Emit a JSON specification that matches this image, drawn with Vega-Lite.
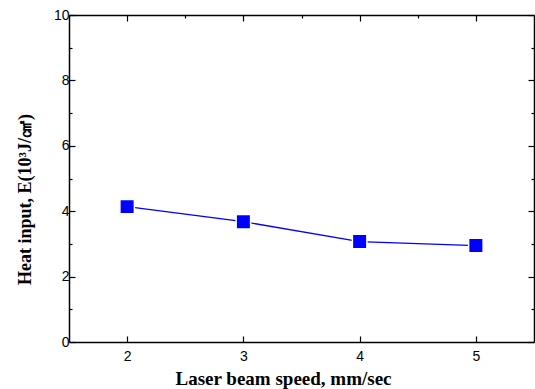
{
  "$schema": "https://vega.github.io/schema/vega-lite/v6.json",
  "width": 465,
  "height": 327,
  "autosize": "none",
  "padding": {"left": 69, "top": 15, "right": 1, "bottom": 47},
  "background": "white",
  "config": {
    "view": {"stroke": null},
    "axis": {
      "domainColor": "black",
      "domainWidth": 1.5,
      "tickColor": "black",
      "tickWidth": 1.2,
      "grid": false,
      "labelFont": "Liberation Sans",
      "labelFontSize": 14,
      "labelColor": "black",
      "titleFont": "Liberation Serif",
      "titleFontWeight": "bold",
      "titleFontSize": 18,
      "titleColor": "black"
    }
  },
  "data": {
    "values": [
      {"speed": 2, "E": 4.14},
      {"speed": 3, "E": 3.68},
      {"speed": 4, "E": 3.07},
      {"speed": 5, "E": 2.95}
    ]
  },
  "layer": [
    {
      "mark": {"type": "line", "color": "#0000ff", "strokeWidth": 1.3},
      "encoding": {
        "x": {
          "field": "speed", "type": "quantitative",
          "scale": {"domain": [1.5, 5.5], "nice": false, "zero": false},
          "axis": {
            "orient": "bottom",
            "values": [2, 2.5, 3, 3.5, 4, 4.5, 5],
            "format": "d",
            "labelExpr": "datum.value % 1 === 0 ? datum.label : ''",
            "tickSize": {"condition": {"test": "datum.value % 1 !== 0", "value": -3}, "value": -6},
            "labelPadding": 13,
            "title": "Laser beam speed, mm/sec",
            "titleFontSize": 19,
            "titleX": 214,
            "titleAlign": "center",
            "titleY": 42,
            "titleBaseline": "alphabetic"
          }
        },
        "y": {
          "field": "E", "type": "quantitative",
          "scale": {"domain": [0, 10], "nice": false},
          "axis": {
            "orient": "left",
            "values": [0, 1, 2, 3, 4, 5, 6, 7, 8, 9, 10],
            "format": "d",
            "labelExpr": "datum.value % 2 === 0 ? datum.label : ''",
            "tickSize": {"condition": {"test": "datum.value % 2 !== 0", "value": -3}, "value": -6},
            "labelPadding": 6,
            "title": "Heat input, E(10³J/㎠)",
            "titleX": -44,
            "titleY": 184,
            "titleAlign": "center",
            "titleAngle": -90,
            "titleBaseline": "middle"
          }
        }
      }
    },
    {
      "mark": {"type": "point", "shape": "square", "filled": true, "size": 210, "color": "#0000ff", "stroke": "white", "strokeWidth": 1.5, "opacity": 1},
      "encoding": {
        "x": {
          "field": "speed", "type": "quantitative",
          "axis": {
            "orient": "top",
            "values": [2, 2.5, 3, 3.5, 4, 4.5, 5],
            "labels": false,
            "tickSize": {"condition": {"test": "datum.value % 1 !== 0", "value": -3}, "value": -6},
            "title": null
          }
        },
        "y": {
          "field": "E", "type": "quantitative",
          "axis": {
            "orient": "right",
            "values": [0, 1, 2, 3, 4, 5, 6, 7, 8, 9, 10],
            "labels": false,
            "tickSize": {"condition": {"test": "datum.value % 2 !== 0", "value": -3}, "value": -6},
            "title": null
          }
        }
      }
    }
  ],
  "resolve": {"axis": {"x": "independent", "y": "independent"}}
}
